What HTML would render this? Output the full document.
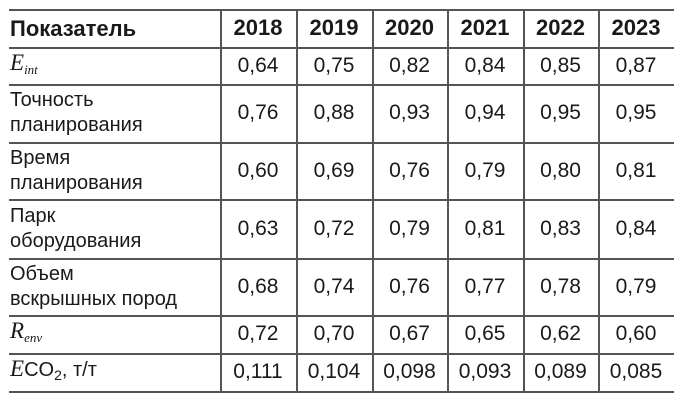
<!DOCTYPE html>
<html><head><meta charset="utf-8">
<style>
body{margin:0;background:#fff;width:688px;height:401px;overflow:hidden;font-family:"Liberation Sans",sans-serif;color:#1a1a1a}
#t{position:absolute;left:0;top:0;width:688px;height:401px}
.hl{position:absolute;left:9px;width:665px;height:1.5px;background:#555}
.vl{position:absolute;width:1.5px;background:#555}
.c{position:absolute;display:flex;align-items:center;justify-content:center;font-size:21px}
.lab{justify-content:flex-start;line-height:25px;font-size:20px}
.h{font-weight:bold;font-size:22px}
i.m{font-family:"Liberation Serif",serif;font-size:23px}
i.m sub{font-size:13px;vertical-align:-4px}
sub.s{font-size:14px;vertical-align:-4px}
</style></head><body>
<div id="t"></div>
<script>
const years=["2018","2019","2020","2021","2022","2023"];
const labels=["<i class='m'>E<sub>int</sub></i>","Точность<br>планирования","Время<br>планирования","Парк<br>оборудования","Объем<br>вскрышных пород","<i class='m'>R<sub>env</sub></i>","<i class='m'>E</i>CO<sub class='s'>2</sub>, т/т"];
const rowNames=["e-int","accuracy","time","fleet","overburden","r-env","eco2"];
const rEint=["0,64","0,75","0,82","0,84","0,85","0,87"];
const rAcc=["0,76","0,88","0,93","0,94","0,95","0,95"];
const rTime=["0,60","0,69","0,76","0,79","0,80","0,81"];
const rFleet=["0,63","0,72","0,79","0,81","0,83","0,84"];
const rOver=["0,68","0,74","0,76","0,77","0,78","0,79"];
const rEnv=["0,72","0,70","0,67","0,65","0,62","0,60"];
const rEco=["0,111","0,104","0,098","0,093","0,089","0,085"];
const rows=[rEint,rAcc,rTime,rFleet,rOver,rEnv,rEco];
const hy=[9,47,84,142,199,258,315,353,391];
const vx=[220,296,372,447,523,598,674];
const t=document.getElementById('t');
hy.forEach(y=>{const d=document.createElement('div');d.className='hl';d.style.top=y+'px';

t.appendChild(d);});
vx.slice(0,6).forEach(x=>{const d=document.createElement('div');d.className='vl';d.style.left=x+'px';d.style.top=hy[0]+'px';d.style.height=(hy[8]-hy[0])+'px';

t.appendChild(d);});
function cell(x,y,w,h,html,cls,name){const d=document.createElement('div');d.className='c '+cls;
d.style.left=x+'px';d.style.top=y+'px';d.style.width=w+'px';d.style.height=h+'px';d.innerHTML='<span>'+html+'</span>';

t.appendChild(d);}
cell(10,hy[0],205,hy[1]-hy[0],"Показатель","h lab",'header-indicator');
years.forEach((yr,i)=>cell(vx[i],hy[0],vx[i+1]-vx[i],hy[1]-hy[0],yr,'h','header-'+yr));
rows.forEach((r,j)=>{
 cell(10,hy[j+1],208,hy[j+2]-hy[j+1],labels[j],'lab','label-'+rowNames[j]);
 r.forEach((v,i)=>cell(vx[i],hy[j+1],vx[i+1]-vx[i],hy[j+2]-hy[j+1],v,'','value-'+rowNames[j]+'-'+years[i]));
});
</script>
</body></html>
